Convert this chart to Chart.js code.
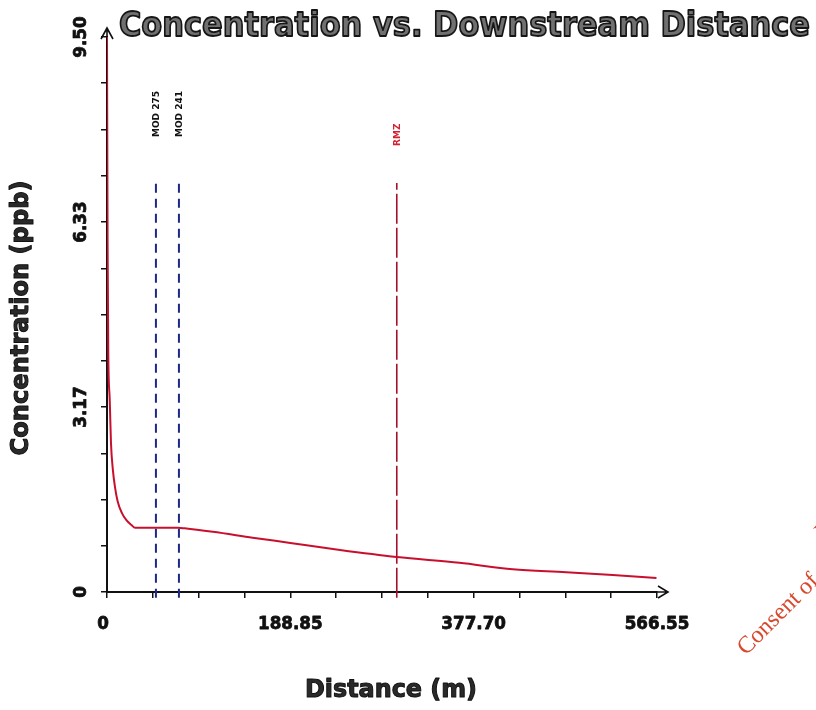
<!DOCTYPE html>
<html>
<head>
<meta charset="utf-8">
<script src="https://cdn.jsdelivr.net/npm/chart.js@4"></script>
<style>
  html, body { margin: 0; padding: 0; background: #fff; }
  #wrap { width: 816px; height: 710px; }
</style>
</head>
<body>
<div id="wrap"><canvas id="chart" width="816" height="710"></canvas></div>
<script>
// 濃度 vs 下流距離。値は図から目視で読み取り
const distance = [0, 0.6, 1.3, 2.8, 4.1, 6, 8.2, 11, 15.4, 20, 25, 29, 50, 73, 80, 109, 150, 188.85, 240, 298.5, 363, 418, 473, 521, 566];
const concentration = [9.5, 6.0, 4.1, 3.3, 2.55, 2.1, 1.8, 1.55, 1.35, 1.23, 1.15, 1.10, 1.10, 1.10, 1.09, 1.03, 0.93, 0.84, 0.72, 0.60, 0.50, 0.39, 0.34, 0.29, 0.24];

const markerNames = ["MOD 275", "MOD 241", "RMZ"];
const markerDistance = [50.4, 74.1, 298.5];
const markerRange = [-0.1, 7.0];

const xTickLabels = ["0", "188.85", "377.70", "566.55"];
const yTickLabels = ["0", "3.17", "6.33", "9.50"];
const xMax = 566.55;
const yMax = 9.5;

const RED = "#c8102e";
const NAVY = "#1c2a84";
const DARKRED = "#a3122a";
const markerColors = [NAVY, NAVY, DARKRED];
const markerDash = [[9, 6], [9, 6], [30, 4]];
const markerLabelColors = ["#111", "#111", "#d42030"];

// テキストを目標幅に合わせて横方向に伸縮して描く
function drawText(ctx, text, x, y, opts) {
  ctx.save();
  ctx.font = `bold ${opts.size}px "DejaVu Sans", sans-serif`;
  ctx.textAlign = "center";
  ctx.textBaseline = "middle";
  const w = ctx.measureText(text).width;
  const sx = opts.width ? opts.width / w : (opts.sx || 1);
  ctx.translate(x, y);
  if (opts.rot) ctx.rotate(opts.rot);
  ctx.scale(sx, 1);
  ctx.fillStyle = opts.color || "#111";
  ctx.fillText(text, 0, 0);
  if (opts.stroke) {
    ctx.lineWidth = opts.lineWidth || 1;
    ctx.strokeStyle = opts.stroke;
    ctx.lineJoin = "round";
    ctx.strokeText(text, 0, 0);
  }
  ctx.restore();
}

const decorPlugin = {
  id: "decor",
  afterDraw(chart) {
    const ctx = chart.ctx;
    const xs = chart.scales.x;
    const ys = chart.scales.y;
    const left = xs.left, right = xs.right, top = ys.top, bottom = ys.bottom;

    // 軸の矢印
    ctx.save();
    ctx.strokeStyle = "#111";
    ctx.lineWidth = 1.6;
    ctx.beginPath();
    ctx.moveTo(right, bottom); ctx.lineTo(right + 11, bottom);
    ctx.moveTo(right + 1, bottom - 6); ctx.lineTo(right + 11, bottom); ctx.lineTo(right + 1, bottom + 6);
    ctx.moveTo(left, top); ctx.lineTo(left, top - 9);
    ctx.moveTo(left - 6, top + 2); ctx.lineTo(left, top - 9); ctx.lineTo(left + 6, top + 2);
    ctx.stroke();
    ctx.restore();

    // 目盛りラベル
    const tickStyle = { size: 18, sx: 0.93, color: "#111", stroke: "#111", lineWidth: 0.8 };
    xTickLabels.forEach((t, i) => {
      const px = xs.getPixelForValue(i * xMax / (xTickLabels.length - 1));
      drawText(ctx, t, i === 0 ? px - 4 : px, 624, tickStyle);
    });
    yTickLabels.forEach((t, i) => {
      const py = ys.getPixelForValue(i * yMax / (yTickLabels.length - 1));
      drawText(ctx, t, 81, py, { ...tickStyle, rot: -Math.PI / 2 });
    });

    // 軸タイトル
    const axisStyle = { size: 24, color: "#2a2a2a", stroke: "#111", lineWidth: 1 };
    drawText(ctx, "Distance (m)", 391, 691, { ...axisStyle, width: 172 });
    drawText(ctx, "Concentration (ppb)", 22, 318, { ...axisStyle, width: 275, rot: -Math.PI / 2 });

    // タイトル
    ctx.save();
    ctx.font = 'bold 33px "DejaVu Sans", sans-serif';
    ctx.textBaseline = "alphabetic";
    ctx.textAlign = "left";
    const title = "Concentration vs. Downstream Distance";
    const tw = ctx.measureText(title).width;
    ctx.translate(119, 36);
    ctx.scale(691 / tw, 1);
    ctx.fillStyle = "#707070";
    ctx.fillText(title, 0, 0);
    ctx.lineWidth = 1.8;
    ctx.lineJoin = "round";
    ctx.strokeStyle = "#161616";
    ctx.strokeText(title, 0, 0);
    ctx.restore();

    // 縦線のラベル
    const labelBottom = [137, 137, 146];
    markerNames.forEach((name, i) => {
      const px = xs.getPixelForValue(markerDistance[i]);
      ctx.save();
      ctx.font = 'bold 9px "DejaVu Sans", sans-serif';
      ctx.textBaseline = "middle";
      ctx.textAlign = "left";
      ctx.fillStyle = markerLabelColors[i];
      ctx.translate(px + 1, labelBottom[i]);
      ctx.rotate(-Math.PI / 2);
      ctx.fillText(name, 0, 0);
      ctx.restore();
    });

    // 透かし
    ctx.save();
    ctx.font = '24px "Liberation Serif", serif';
    ctx.fillStyle = "#d8492e";
    ctx.textBaseline = "alphabetic";
    ctx.translate(746, 656);
    ctx.rotate(-Math.PI / 4);
    ctx.fillText("Consent of copyright owner required for any other use.", 0, 0);
    ctx.fillText("For inspection purposes only.", 137, -27);
    ctx.restore();
  },
};

const datasets = [
  {
    data: distance.map((d, i) => ({ x: d, y: concentration[i] })),
    borderColor: RED,
    borderWidth: 2,
    pointRadius: 0,
    cubicInterpolationMode: "monotone",
    order: 0,
  },
  ...markerNames.map((name, i) => ({
    label: name,
    data: markerRange.map((v) => ({ x: markerDistance[i], y: v })),
    borderColor: markerColors[i],
    borderWidth: i === 2 ? 1.6 : 2,
    borderDash: markerDash[i],
    pointRadius: 0,
    clip: false,
    order: 1,
  })),
];

const tickOf = (max) => (scale) => {
  scale.ticks = [];
  for (let i = 0; i <= 12; i++) scale.ticks.push({ value: (i * max) / 12 });
};

new Chart(document.getElementById("chart").getContext("2d"), {
  type: "line",
  data: { datasets },
  options: {
    responsive: false,
    animation: false,
    layout: { padding: { left: 101, right: 159, top: 37, bottom: 112 } },
    plugins: { legend: { display: false }, tooltip: { enabled: false } },
    scales: {
      x: {
        type: "linear",
        min: 0,
        max: xMax,
        afterBuildTicks: tickOf(xMax),
        ticks: { display: false },
        grid: { drawOnChartArea: false, tickLength: 6, color: "#111", lineWidth: 1.5 },
        border: { color: "#111", width: 2 },
      },
      y: {
        min: 0,
        max: yMax,
        afterBuildTicks: tickOf(yMax),
        ticks: { display: false },
        grid: { drawOnChartArea: false, tickLength: 6, color: "#111", lineWidth: 1.5 },
        border: { color: "#111", width: 2 },
      },
    },
  },
  plugins: [decorPlugin],
});
</script>
</body>
</html>
